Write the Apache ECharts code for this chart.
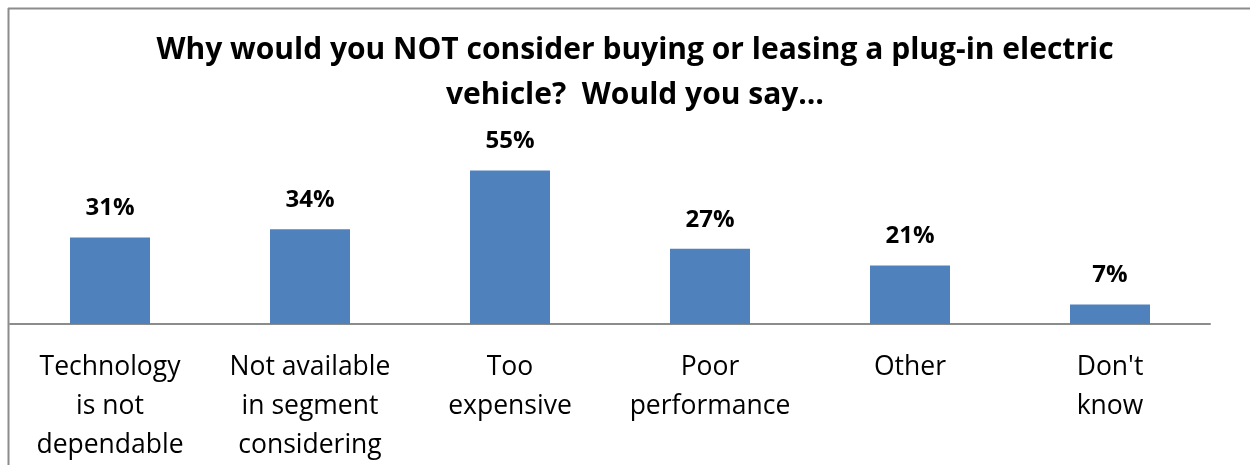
<!DOCTYPE html>
<html>
<head>
<meta charset="utf-8">
<script src="https://cdn.jsdelivr.net/npm/echarts@6/dist/echarts.min.js"></script>
<style>
  html, body { margin: 0; padding: 0; background: #fff; overflow: hidden; }
  #chart { width: 1250px; height: 465px; }
</style>
</head>
<body>
<div id="chart"></div>
<script>
// Reasons for not considering a plug-in electric vehicle (% of respondents)
const categories = [
  'Technology\nis not\ndependable',
  'Not available\nin segment\nconsidering',
  'Too\nexpensive',
  'Poor\nperformance',
  'Other',
  "Don't\nknow"
];
const percentValues = [31, 34, 55, 27, 21, 7];
const titleText = 'Why would you NOT consider buying or leasing a plug-in electric\nvehicle?  Would you say…';

const chart = echarts.init(document.getElementById('chart'), null, { renderer: 'canvas' });

chart.setOption({
  animation: false,
  backgroundColor: '#ffffff',
  title: {
    text: titleText,
    left: 630,
    textAlign: 'center',
    top: 23,
    textStyle: {
      fontFamily: 'Open Sans',
      fontWeight: 'bold',
      fontSize: 30,
      lineHeight: 45,
      color: '#000000'
    }
  },
  // chart frame: only the top and left edges fall inside the view
  graphic: [
    {
      type: 'line',
      shape: { x1: 8, y1: 8.5, x2: 1250, y2: 8.5 },
      style: { stroke: '#8c8c8c', lineWidth: 2 },
      silent: true
    },
    {
      type: 'line',
      shape: { x1: 8.5, y1: 8, x2: 8.5, y2: 465 },
      style: { stroke: '#8c8c8c', lineWidth: 2 },
      silent: true
    }
  ],
  grid: { left: 10, right: 40, top: 45, bottom: 140, containLabel: false },
  xAxis: {
    type: 'category',
    data: categories,
    axisLine: { lineStyle: { color: '#8c8c8c', width: 2 } },
    axisTick: { show: false },
    axisLabel: {
      interval: 0,
      margin: 24,
      fontFamily: 'Open Sans',
      fontSize: 26.5,
      lineHeight: 39,
      color: '#000000'
    }
  },
  yAxis: {
    type: 'value',
    min: 0,
    max: 100,
    show: false,
    splitLine: { show: false }
  },
  series: [{
    type: 'bar',
    data: percentValues,
    barWidth: '40%',
    itemStyle: { color: '#4f81bd' },
    label: {
      show: true,
      position: 'top',
      distance: 17,
      formatter: p => p.value + '%',
      fontFamily: 'Open Sans',
      fontWeight: 'bold',
      fontSize: 24,
      color: '#000000'
    }
  }]
});
</script>
</body>
</html>
